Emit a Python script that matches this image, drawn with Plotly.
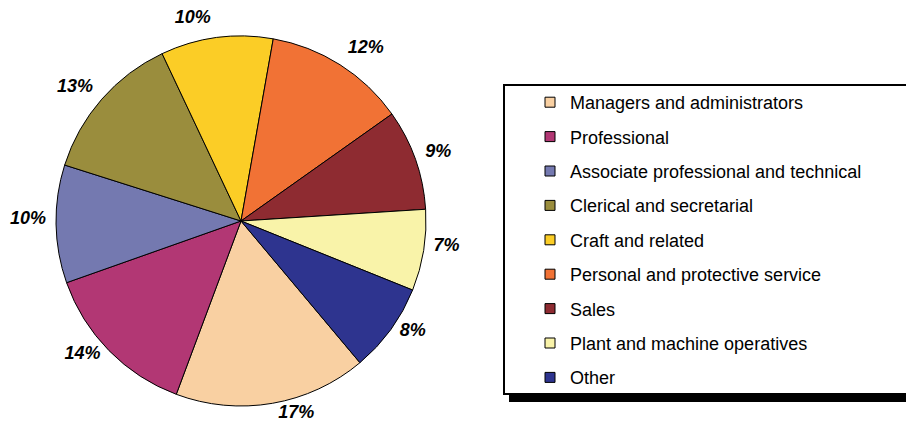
import plotly.graph_objects as go

categories = ["Managers and administrators", "Professional",
              "Associate professional and technical", "Clerical and secretarial",
              "Craft and related", "Personal and protective service", "Sales",
              "Plant and machine operatives", "Other"]
values = [16.8, 13.9, 10.3, 13.1, 9.8, 12.4, 8.8, 7.1, 7.8]
colors = ["#F9D0A2", "#B23774", "#7479B0", "#9A8D3D", "#FBCD26",
          "#F17235", "#8E2B31", "#F9F3A9", "#2E348F"]

W, H = 906, 421
CX, CY, R = 241, 221, 185        # pie centre / radius (px)
LCX, LCY, RL = 241, 215, 190     # ring that carries the labels (px)

def dom(cx, cy, r):
    return dict(x=[(cx - r) / W, (cx + r) / W],
                y=[1 - (cy + r) / H, 1 - (cy - r) / H])

label_font = dict(family="Liberation Sans, Arial", size=18, color="black",
                  weight="bold", style="italic")

fig = go.Figure()
# invisible ring that carries the percentage labels slightly away from the rim
fig.add_trace(go.Pie(
    labels=categories, values=values, sort=False, direction="clockwise",
    rotation=140, marker=dict(colors=["rgba(0,0,0,0)"] * len(values),
                              line=dict(width=0)),
    texttemplate="%{percent:.0%}", textposition="outside",
    outsidetextfont=label_font, showlegend=False, hoverinfo="skip",
    domain=dom(LCX, LCY, RL),
))
fig.add_trace(go.Pie(
    labels=categories, values=values, sort=False, direction="clockwise",
    rotation=140, marker=dict(colors=colors, line=dict(color="black", width=1)),
    textinfo="none", showlegend=False, hoverinfo="label+percent",
    domain=dom(CX, CY, R),
))

for name, c in zip(categories, colors):
    fig.add_trace(go.Scatter(
        x=[None], y=[None], mode="markers", name=name, legendgroup=name,
        marker=dict(symbol="square", size=10, color=c, line=dict(color="black", width=1)),
    ))

# legend frame with drop shadow
fig.add_shape(type="rect", xref="paper", yref="paper", layer="below",
              x0=509 / W, x1=930 / W, y0=1 - 402 / H, y1=1 - 90 / H,
              fillcolor="black", line=dict(width=0))
fig.add_shape(type="rect", xref="paper", yref="paper", layer="below",
              x0=504 / W, x1=925 / W, y0=1 - 394 / H, y1=1 - 85 / H,
              fillcolor="white", line=dict(color="black", width=2))

fig.update_layout(
    width=W, height=H, margin=dict(l=0, r=0, t=0, b=0, autoexpand=False),
    paper_bgcolor="white", plot_bgcolor="white",
    xaxis=dict(visible=False), yaxis=dict(visible=False),
    legend=dict(x=530 / W, y=1 - 84 / H, xanchor="left", yanchor="top", maxheight=400,
                bgcolor="rgba(0,0,0,0)", borderwidth=0, tracegroupgap=8,
                font=dict(family="Liberation Sans, Arial", size=18, color="black")),
)
fig.write_html("out.html", config={"displayModeBar": False},
               post_script="document.body.style.margin='0';document.body.style.overflow='hidden';")
